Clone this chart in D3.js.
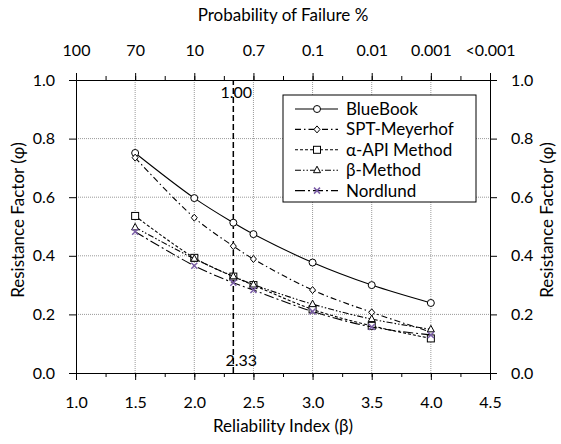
<!DOCTYPE html>
<html>
<head>
<meta charset="utf-8">
<script src="https://cdn.jsdelivr.net/npm/d3@7"></script>
<style>
  body { margin: 0; background: #fff; }
  text { font-family: Lato, "Open Sans", sans-serif; fill: #000; }
</style>
</head>
<body>
<div id="wrapper"></div>
<script>
const betaValues = [1.5, 2.0, 2.33, 2.5, 3.0, 3.5, 4.0];
const blueBook = [0.751, 0.597, 0.513, 0.474, 0.377, 0.3, 0.239];
const sptMeyerhof = [0.735, 0.53, 0.433, 0.389, 0.283, 0.207, 0.14];
const alphaApi = [0.536, 0.393, 0.329, 0.3, 0.217, 0.161, 0.118];
const betaMethod = [0.497, 0.39, 0.33, 0.302, 0.235, 0.184, 0.149];
const nordlund = [0.482, 0.366, 0.308, 0.283, 0.21, 0.157, 0.13];
const seriesNames = ["BlueBook", "SPT-Meyerhof", "α-API Method", "β-Method", "Nordlund"];

const xTicks = [1.0, 1.5, 2.0, 2.5, 3.0, 3.5, 4.0, 4.5];
const topLabels = ["100", "70", "10", "0.7", "0.1", "0.01", "0.001", "<0.001"];
const yTicks = [0, 0.2, 0.4, 0.6, 0.8, 1.0];

const targetBeta = 2.33;
const targetLine = [0, 1.0];

const dimensions = {
  width: 561,
  height: 444,
  margin: { top: 80, right: 71, bottom: 71, left: 76 },
};
dimensions.boundedWidth = dimensions.width - dimensions.margin.left - dimensions.margin.right;
dimensions.boundedHeight = dimensions.height - dimensions.margin.top - dimensions.margin.bottom;

const styles = [
  { dash: null, marker: "circle", color: "#000" },
  { dash: "6,3,1.5,3", marker: "diamond", color: "#000" },
  { dash: "3,2", marker: "square", color: "#000" },
  { dash: "6,2,1.5,2,1.5,2", marker: "triangle", color: "#000" },
  { dash: "10,3,2,3", marker: "cross", color: "#000" },
];
const allSeries = [blueBook, sptMeyerhof, alphaApi, betaMethod, nordlund];

const svg = d3.select("#wrapper").append("svg")
  .attr("width", dimensions.width)
  .attr("height", dimensions.height);

const bounds = svg.append("g")
  .attr("transform", `translate(${dimensions.margin.left},${dimensions.margin.top})`);

const xScale = d3.scaleLinear().domain([1.0, 4.5]).range([0, dimensions.boundedWidth]);
const yScale = d3.scaleLinear().domain([0, 1.0]).range([dimensions.boundedHeight, 0]);

// gridlines
bounds.append("g").selectAll("line")
  .data(yTicks.slice(1, -1))
  .join("line")
  .attr("x1", 0).attr("x2", dimensions.boundedWidth)
  .attr("y1", (d) => yScale(d)).attr("y2", (d) => yScale(d))
  .attr("stroke", "#9a9a9a").attr("stroke-dasharray", "1,1");
bounds.append("g").selectAll("line")
  .data(xTicks.slice(1, -1))
  .join("line")
  .attr("x1", (d) => xScale(d)).attr("x2", (d) => xScale(d))
  .attr("y1", 0).attr("y2", dimensions.boundedHeight)
  .attr("stroke", "#9a9a9a").attr("stroke-dasharray", "1,1");

// axes
const fmt = d3.format(".1f");
const minorX = d3.range(1.0, 4.51, 0.25);

const styleAxis = (g) => {
  g.select(".domain").attr("stroke", "#000");
  g.selectAll(".tick line").attr("stroke", "#000");
  g.selectAll("text").style("font-size", "16px");
};

bounds.append("g")
  .attr("transform", `translate(0,${dimensions.boundedHeight})`)
  .call(d3.axisBottom(xScale).tickValues(minorX).tickSize(4).tickFormat(""))
  .call(styleAxis);
bounds.append("g")
  .attr("transform", `translate(0,${dimensions.boundedHeight})`)
  .call(d3.axisBottom(xScale).tickValues(xTicks).tickSize(7).tickPadding(17).tickSizeOuter(0).tickFormat(fmt))
  .call(styleAxis);

bounds.append("g")
  .call(d3.axisTop(xScale).tickValues(minorX).tickSize(4).tickFormat(""))
  .call(styleAxis);
bounds.append("g")
  .call(d3.axisTop(xScale).tickValues(xTicks).tickSize(7).tickPadding(17).tickSizeOuter(0)
    .tickFormat((d, i) => topLabels[i]))
  .call(styleAxis);

bounds.append("g")
  .call(d3.axisLeft(yScale).tickValues(yTicks).tickSize(7).tickPadding(14).tickSizeOuter(0).tickFormat(fmt))
  .call(styleAxis);
bounds.append("g")
  .attr("transform", `translate(${dimensions.boundedWidth},0)`)
  .call(d3.axisRight(yScale).tickValues(yTicks).tickSize(7).tickPadding(14).tickSizeOuter(0).tickFormat(fmt))
  .call(styleAxis);

// target reliability line
bounds.append("line")
  .attr("x1", xScale(targetBeta)).attr("x2", xScale(targetBeta))
  .attr("y1", yScale(targetLine[0])).attr("y2", yScale(targetLine[1]))
  .attr("stroke", "#000").attr("stroke-width", 1.5).attr("stroke-dasharray", "6,3");

bounds.append("text")
  .attr("x", xScale(targetBeta) + 3)
  .attr("y", yScale(targetLine[1]) + 18)
  .attr("text-anchor", "middle")
  .style("font-size", "16px")
  .text(targetLine[1].toFixed(2));
bounds.append("text")
  .attr("x", xScale(targetBeta) + 8)
  .attr("y", yScale(targetLine[0]) - 7)
  .attr("text-anchor", "middle")
  .style("font-size", "16px")
  .text(targetBeta.toFixed(2));

// series
const line = d3.line()
  .x((d) => xScale(d[0]))
  .y((d) => yScale(d[1]))
  .curve(d3.curveCatmullRom.alpha(0.5));

const drawMarker = (g, type, x, y) => {
  if (type === "circle") {
    g.append("circle").attr("cx", x).attr("cy", y).attr("r", 3.5)
      .attr("fill", "#fff").attr("stroke", "#000");
  } else if (type === "diamond") {
    g.append("path").attr("d", `M${x},${y - 3.5}L${x + 3},${y}L${x},${y + 3.5}L${x - 3},${y}Z`)
      .attr("fill", "#fff").attr("stroke", "#000");
  } else if (type === "square") {
    g.append("rect").attr("x", x - 3.5).attr("y", y - 3.5).attr("width", 7).attr("height", 7)
      .attr("fill", "#fff").attr("stroke", "#000");
  } else if (type === "triangle") {
    g.append("path").attr("d", `M${x},${y - 4}L${x + 3.5},${y + 2.5}L${x - 3.5},${y + 2.5}Z`)
      .attr("fill", "#fff").attr("stroke", "#000");
  } else if (type === "cross") {
    g.append("path").attr("d", `M${x - 3},${y - 3}L${x + 3},${y + 3}M${x - 3},${y + 3}L${x + 3},${y - 3}`)
      .attr("stroke", "#7b5ea7").attr("stroke-width", 1.5);
  }
};

allSeries.forEach((values, i) => {
  const pts = betaValues.map((b, j) => [b, values[j]]);
  bounds.append("path")
    .attr("d", line(pts))
    .attr("fill", "none")
    .attr("stroke", styles[i].color)
    .attr("stroke-width", 1.1)
    .attr("stroke-dasharray", styles[i].dash);
  const mg = bounds.append("g");
  pts.forEach((p) => drawMarker(mg, styles[i].marker, xScale(p[0]), yScale(p[1])));
});

// legend
const legend = svg.append("g").attr("transform", "translate(283,95)");
legend.append("rect")
  .attr("width", 193).attr("height", 107)
  .attr("fill", "#fff").attr("stroke", "#000");
seriesNames.forEach((name, i) => {
  const y = 14 + i * 20.4;
  const row = legend.append("g");
  row.append("line")
    .attr("x1", 12).attr("x2", 55).attr("y1", y).attr("y2", y)
    .attr("stroke", "#000").attr("stroke-width", 1.1)
    .attr("stroke-dasharray", styles[i].dash);
  drawMarker(row, styles[i].marker, 34, y);
  row.append("text")
    .attr("x", 63).attr("y", y + 6)
    .style("font-size", "17px")
    .text(name);
});

// axis titles
svg.append("text")
  .attr("x", dimensions.margin.left + dimensions.boundedWidth / 2)
  .attr("y", 21)
  .attr("text-anchor", "middle")
  .style("font-size", "17px")
  .text("Probability of Failure %");
svg.append("text")
  .attr("x", dimensions.margin.left + dimensions.boundedWidth / 2)
  .attr("y", 432)
  .attr("text-anchor", "middle")
  .style("font-size", "17px")
  .text("Reliability Index (β)");
svg.append("text")
  .attr("transform", `translate(24,220) rotate(-90)`)
  .attr("text-anchor", "middle")
  .style("font-size", "17px")
  .text("Resistance Factor (φ)");
svg.append("text")
  .attr("transform", `translate(553,220) rotate(-90)`)
  .attr("text-anchor", "middle")
  .style("font-size", "17px")
  .text("Resistance Factor (φ)");
</script>
</body>
</html>
